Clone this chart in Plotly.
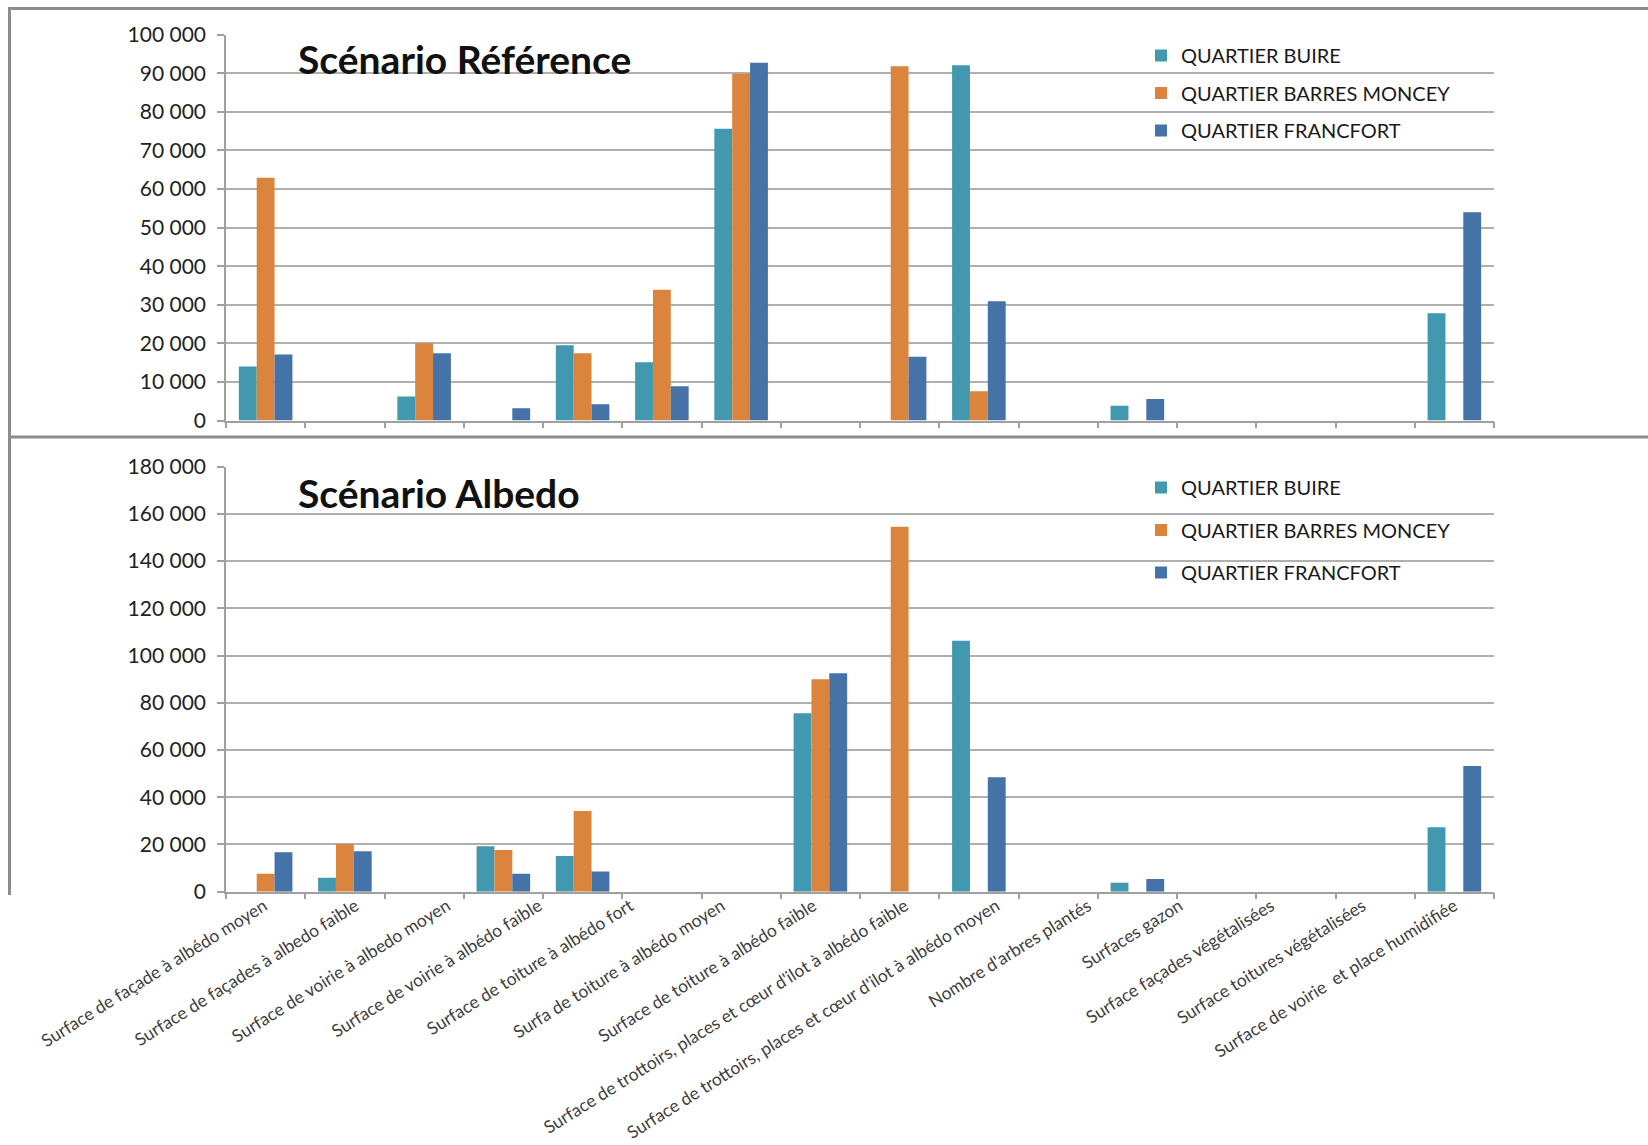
import plotly.graph_objects as go

# ---- data ----
slots = [str(i) for i in range(1, 17)]  # 16 category slots per panel

series_names = ["QUARTIER BUIRE", "QUARTIER BARRES MONCEY", "QUARTIER FRANCFORT"]
colors = ["#4198AF", "#DB843D", "#4572A7"]

ref_buire = [14000, 0, 6200, 0, 19500, 15100, 75600, 0, 0, 92100, 0, 3800, 0, 0, 0, 27800]
ref_barres = [62900, 0, 20000, 0, 17400, 33900, 89900, 0, 91800, 7600, 0, 0, 0, 0, 0, 0]
ref_francfort = [17100, 0, 17400, 3200, 4200, 8900, 92700, 0, 16500, 30900, 0, 5600, 0, 0, 0, 54000]

alb_buire = [0, 5900, 0, 19200, 15100, 0, 0, 75600, 0, 106300, 0, 3800, 0, 0, 0, 27300]
alb_barres = [7600, 20200, 0, 17700, 34200, 0, 0, 90000, 154600, 0, 0, 0, 0, 0, 0, 0]
alb_francfort = [16700, 17100, 0, 7600, 8600, 0, 0, 92500, 0, 48500, 0, 5400, 0, 0, 0, 53200]

tick_labels = [
    "Surface de façade à albédo moyen",
    "Surface de façades à albedo faible",
    "Surface de voirie à albedo moyen",
    "Surface de voirie à albédo faible",
    "Surface de toiture à albédo fort",
    "Surfa de toiture à albédo moyen",
    "Surface de toiture à albédo faible",
    "Surface de trottoirs, places et cœur d'ilot à albédo faible",
    "Surface de trottoirs, places et cœur d'ilot à albédo moyen",
    "Nombre d'arbres plantés",
    "Surfaces gazon",
    "Surface façades végétalisées",
    "Surface toitures végétalisées",
    "Surface de voirie  et place humidifiée",
]

title_top = "Scénario Référence"
title_bottom = "Scénario Albedo"

W, H = 1648, 1145
FONT = "Lato"

def px_x(x):
    return x / W

def px_y(y):
    return 1 - y / H

fig = go.Figure()

for name, col, vals in zip(series_names, colors, [ref_buire, ref_barres, ref_francfort]):
    fig.add_trace(go.Bar(x=slots, y=vals, name=name, marker=dict(color=col, line=dict(width=0)),
                         xaxis="x", yaxis="y", legend="legend", legendgroup=name + "_top"))
for name, col, vals in zip(series_names, colors, [alb_buire, alb_barres, alb_francfort]):
    fig.add_trace(go.Bar(x=slots, y=vals, name=name, marker=dict(color=col, line=dict(width=0)),
                         xaxis="x2", yaxis="y2", legend="legend2", legendgroup=name + "_bot"))

# invisible carrier for the rotated category labels
fig.add_trace(go.Scatter(x=tick_labels, y=[None] * len(tick_labels), xaxis="x3", yaxis="y2",
                         showlegend=False, hoverinfo="skip", mode="markers"))

xdom = [px_x(226), px_x(1494)]
grid_col = "#b0b0b0"
axis_col = "#a0a0a0"

common_x = dict(type="category", domain=xdom, showticklabels=False, ticks="outside",
                tickson="boundaries", ticklen=6, tickcolor=axis_col, tickwidth=1.5,
                showline=True, linecolor=axis_col, linewidth=1.5, showgrid=False,
                zeroline=False, fixedrange=True, automargin=False)
common_y = dict(showline=True, linecolor=axis_col, linewidth=1.5, ticks="outside", ticklen=7,
                tickcolor=axis_col, tickwidth=1.5, showgrid=True, gridcolor=grid_col, gridwidth=1.5,
                zeroline=False, tickformat=",d", ticklabelstandoff=7, automargin=False,
                fixedrange=True, tickfont=dict(family=FONT, size=21, color="#222222"))

fig.update_layout(
    template="none",
    width=W, height=H,
    margin=dict(l=0, r=0, t=0, b=0, autoexpand=False),
    paper_bgcolor="white", plot_bgcolor="white",
    separators=", ",
    barmode="group", bargap=0.324, bargroupgap=0,
    font=dict(family=FONT, color="#222222"),
    xaxis=dict(**common_x, anchor="y"),
    xaxis2=dict(**common_x, anchor="y2"),
    xaxis3=dict(type="category", overlaying="x2", anchor="y2", domain=xdom,
                range=[-0.415, 13.435], showline=False, showgrid=False, ticks="",
                tickangle=-32, tickfont=dict(family=FONT, size=17.5, color="#404040"),
                zeroline=False, fixedrange=True, automargin=False),
    yaxis=dict(**common_y, domain=[px_y(420.5), px_y(34.7)], range=[0, 100000], dtick=10000),
    yaxis2=dict(**common_y, domain=[px_y(891.7), px_y(466.7)], range=[0, 180000], dtick=20000),
    legend=dict(x=px_x(1141), y=px_y(36), xanchor="left", yanchor="top",
                font=dict(family=FONT, size=20, color="#1a1a1a"), tracegroupgap=8.5,
                traceorder="grouped", bgcolor="rgba(0,0,0,0)"),
    legend2=dict(x=px_x(1141), y=px_y(468), xanchor="left", yanchor="top",
                 font=dict(family=FONT, size=20, color="#1a1a1a"), tracegroupgap=13.5,
                 traceorder="grouped", bgcolor="rgba(0,0,0,0)"),
    annotations=[
        dict(text=title_top, x=px_x(296), y=px_y(59), xref="paper", yref="paper",
             xanchor="left", yanchor="middle", showarrow=False,
             font=dict(family=FONT, size=39, color="#111111", weight="bold")),
        dict(text=title_bottom, x=px_x(296), y=px_y(493), xref="paper", yref="paper",
             xanchor="left", yanchor="middle", showarrow=False,
             font=dict(family=FONT, size=39, color="#111111", weight="bold")),
    ],
    shapes=[
        dict(type="line", xref="paper", yref="paper", x0=px_x(9), x1=1, y0=px_y(8.5), y1=px_y(8.5),
             line=dict(color="#8c8c8c", width=3)),
        dict(type="line", xref="paper", yref="paper", x0=px_x(9), x1=1, y0=px_y(437), y1=px_y(437),
             line=dict(color="#8c8c8c", width=3)),
        dict(type="line", xref="paper", yref="paper", x0=px_x(9.5), x1=px_x(9.5), y0=px_y(7), y1=px_y(895),
             line=dict(color="#8c8c8c", width=3)),
    ],
)

fig.write_html("out.html", config={"displayModeBar": False},
               post_script="document.body.style.margin='0';document.body.style.overflow='hidden';")
